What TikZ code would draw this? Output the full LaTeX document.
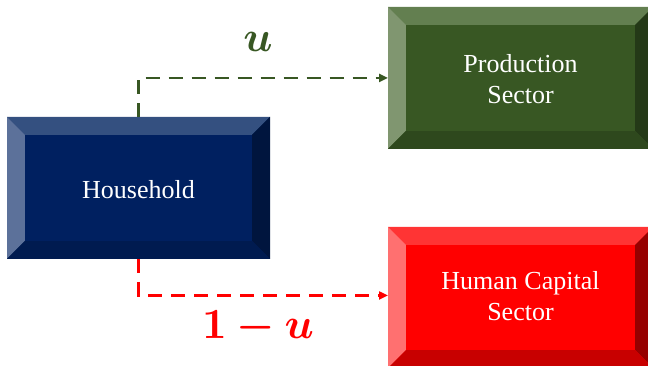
\documentclass[tikz,border=0pt]{standalone}
\usepackage{fontspec}
\setmainfont{Liberation Serif}
\usepackage{bm}
\usetikzlibrary{arrows.meta,calc}
\definecolor{hhmain}{RGB}{0,32,96}
\definecolor{hhtop}{RGB}{52,80,128}
\definecolor{hhleft}{RGB}{92,113,154}
\definecolor{hhright}{RGB}{0,21,62}
\definecolor{hhbot}{RGB}{0,27,80}
\definecolor{prmain}{RGB}{56,87,35}
\definecolor{prtop}{RGB}{99,127,80}
\definecolor{prleft}{RGB}{128,150,112}
\definecolor{prright}{RGB}{36,57,23}
\definecolor{prbot}{RGB}{46,72,29}
\definecolor{hcmain}{RGB}{255,0,0}
\definecolor{hctop}{RGB}{255,52,52}
\definecolor{hcleft}{RGB}{255,112,112}
\definecolor{hcright}{RGB}{150,0,0}
\definecolor{hcbot}{RGB}{200,0,0}
\definecolor{gline}{RGB}{56,87,35}
\definecolor{rline}{RGB}{255,0,0}
\newcommand\bevelbox[6]{%
  \fill[#2] (#1.south west) rectangle (#1.north east);
  \fill[#3] (#1.north west) -- (#1.north east) -- ([shift={(-18pt,-18pt)}]#1.north east) -- ([shift={(18pt,-18pt)}]#1.north west) -- cycle;
  \fill[#4] (#1.north west) -- (#1.south west) -- ([shift={(18pt,18pt)}]#1.south west) -- ([shift={(18pt,-18pt)}]#1.north west) -- cycle;
  \fill[#5] (#1.north east) -- (#1.south east) -- ([shift={(-18pt,18pt)}]#1.south east) -- ([shift={(-18pt,-18pt)}]#1.north east) -- cycle;
  \fill[#6] (#1.south west) -- (#1.south east) -- ([shift={(-18pt,18pt)}]#1.south east) -- ([shift={(18pt,18pt)}]#1.south west) -- cycle;
  \fill[#2] ([shift={(18pt,18pt)}]#1.south west) rectangle ([shift={(-18pt,-18pt)}]#1.north east);
}
\tikzset{
  box/.style={inner sep=0pt, outer sep=0pt, text=white, align=center,
    font=\fontsize{26}{31}\selectfont},
  flow/.style={line width=2.4pt, dash pattern=on 14pt off 9pt,
    -{Triangle[length=9pt,width=8pt]}},
  lab/.style={font=\normalsize, scale=4.3}
}
\begin{document}
\begin{tikzpicture}[x=1pt,y=1pt]
\useasboundingbox (0,0) rectangle (648,366);
\clip (0,0) rectangle (648,366);
\path (138.5,178) node[box, minimum width=263pt, minimum height=142pt] (hh) {};
\path (520.5,288) node[box, minimum width=265pt, minimum height=142pt] (pr) {};
\path (520.5,68.5) node[box, minimum width=265pt, minimum height=141pt] (hc) {};
\bevelbox{hh}{hhmain}{hhtop}{hhleft}{hhright}{hhbot}
\bevelbox{pr}{prmain}{prtop}{prleft}{prright}{prbot}
\bevelbox{hc}{hcmain}{hctop}{hcleft}{hcright}{hcbot}
\node[box] (hht) at ($(hh.center)+(0,-2)$) {Household};
\node[box] (prt) at ($(pr.center)+(0,-1)$) {Production\\Sector};
\node[box] (hct) at ($(hc.center)+(0,1)$) {Human Capital\\Sector};
\draw[flow, gline] (hh.north) |- (pr.west);
\draw[flow, rline] (hh.south) |- ($(hc.west)+(0,2)$);
\node[lab, text=gline] (lu) at (258,324) {$\bm{u}$};
\node[lab, text=rline] (l1u) at (258,38) {$\bm{1-u}$};
\end{tikzpicture}
\end{document}
